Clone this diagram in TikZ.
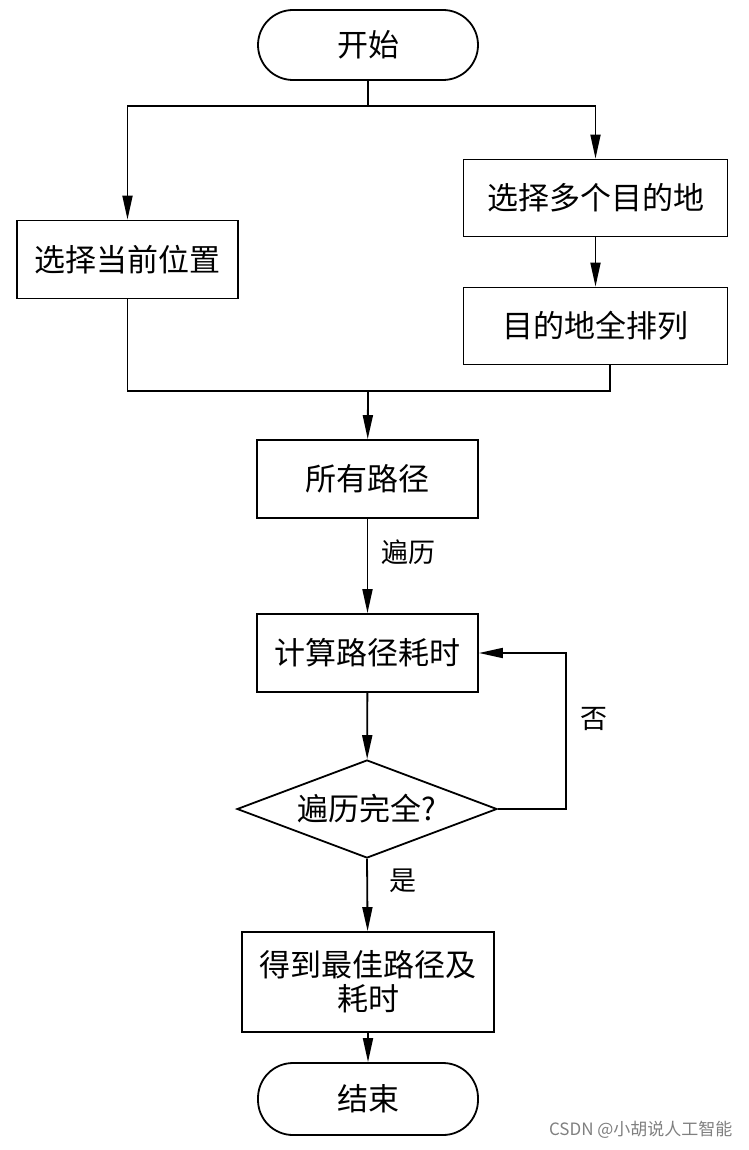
\documentclass[tikz,border=0pt]{standalone}
\usepackage{fontspec}
\setmainfont{Noto Sans CJK SC}
\newfontfamily\cjk{Noto Sans CJK SC}
\usetikzlibrary{shapes.geometric,arrows.meta}
\begin{document}
\begin{tikzpicture}[x=1pt,y=-1pt,
  every node/.style={font=\cjk\fontsize{31}{34}\selectfont},
  box/.style={draw,line width=1.8pt,rectangle,inner sep=2pt,align=center},
  term/.style={draw,line width=1.8pt,rectangle,rounded corners=35pt,minimum width=220pt},
  dec/.style={draw,line width=1.8pt,diamond,aspect=2.65,inner sep=0pt,minimum width=260pt,minimum height=98pt},
  conn/.style={line width=1.8pt},
  arr/.style={conn,-{Triangle[length=24pt,width=10pt]}},
  lbl/.style={font=\cjk\fontsize{27}{30}\selectfont}]
\useasboundingbox (0,0) rectangle (748,1150);
\fill[white] (0,0) rectangle (748,1150);
\node[term,minimum height=70pt] (start) at (368,45) {开始};
\node[box,minimum width=221pt,minimum height=78pt] (sel) at (127.5,259.5) {选择当前位置};
\node[box,minimum width=264pt,minimum height=77pt] (multi) at (595.5,198) {选择多个目的地};
\node[box,minimum width=264pt,minimum height=77pt] (perm) at (595.5,326) {目的地全排列};
\node[box,minimum width=221pt,minimum height=78pt] (all) at (367.5,479) {所有路径};
\node[box,minimum width=221pt,minimum height=78pt] (calc) at (367.5,653) {计算路径耗时};
\node[dec] (check) at (367,809) {遍历完全?};
\node[box,minimum width=252pt,minimum height=100pt] (res) at (368,982) {得到最佳路径及\\耗时};
\node[term,minimum height=72pt] (end) at (368,1099) {结束};
\coordinate (split) at (368,106);
\coordinate (merge) at (368,391);
\coordinate (pj) at (610,364);
\coordinate (loop) at (566,809);
\draw[conn] (start) -- (split);
\draw[arr] (split) -| (sel.north);
\draw[arr] (split) -| (multi.north);
\draw[arr] (multi) -- (perm);
\draw[conn] (sel.south) |- (merge) -| (pj);
\draw[arr] (merge) -- (all);
\draw[arr] (all) -- node[lbl,right,xshift=10pt,yshift=14pt] {遍历} (calc);
\draw[arr] (calc) -- (check);
\draw[arr] (check.east) -- (loop) |- node[lbl,pos=0.25,right,xshift=10pt,yshift=12pt] {否} (calc.east);
\draw[arr] (check.south) -- node[lbl,pos=0.3,right,xshift=18pt] {是} (res);
\draw[arr] (res) -- (end);
\node[font=\cjk\fontsize{17}{20}\selectfont,text=gray,anchor=east] (wm) at (736,1130) {CSDN @小胡说人工智能};
\end{tikzpicture}
\end{document}
